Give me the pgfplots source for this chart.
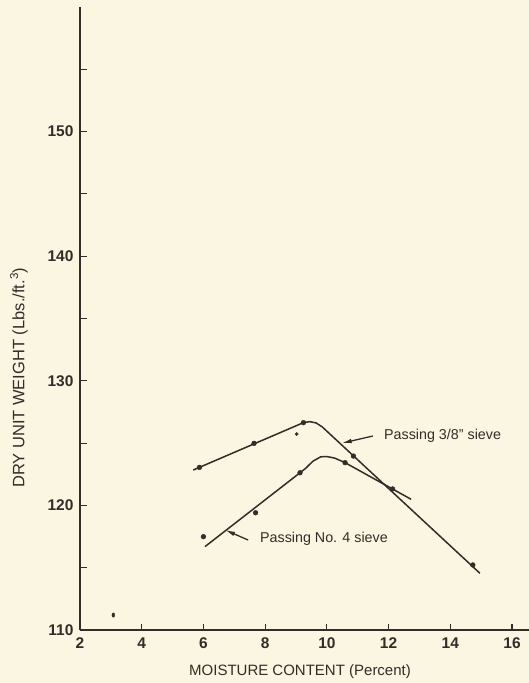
\documentclass[border=0pt]{standalone}
\usepackage{fontspec}
\setmainfont{Liberation Sans}
\usepackage{pgfplots}
\pgfplotsset{compat=1.18}
\usetikzlibrary{arrows.meta}
\definecolor{bg}{RGB}{250,246,226}
\definecolor{ink}{RGB}{52,44,40}

\begin{document}
\begin{tikzpicture}[x=1pt,y=1pt]
\fill[bg] (0,0) rectangle (529,683);
\path[use as bounding box] (0,0) rectangle (529,683);
\begin{axis}[
  at={(80pt,53pt)}, anchor=south west,
  scale only axis, width=449pt, height=623pt,
  xmin=2, xmax=16.55, ymin=110, ymax=160,
  axis lines=left,
  axis line style={ink, line width=1.3pt, -},
  xtick={2,4,6,8,10,12,14,16},
  xticklabels={2,4,6,8,10,12,14,16},
  ytick={110,115,120,125,130,135,140,145,150,155},
  yticklabels={110,,120,,130,,140,,150,},
  tick align=inside,
  major tick length=6.5pt,
  tick style={ink, line width=1.1pt},
  ticklabel style={font=\fontsize{15.5}{17}\selectfont\bfseries, text=ink},
  xticklabel style={yshift=-4pt},
  yticklabel style={xshift=-3pt},
  xlabel={MOISTURE CONTENT (Percent)},
  ylabel={DRY UNIT WEIGHT (Lbs./ft.\textsuperscript{3})},
  label style={text=ink},
  xlabel style={font=\fontsize{15}{17}\selectfont, at={(axis description cs:0.49,0)}, anchor=center, yshift=-42pt},
  ylabel style={font=\fontsize{16.5}{18}\selectfont, at={(axis description cs:-0.136,0.405)}, anchor=center},
  clip=false,
]
% fitted curves
\addplot[ink, line width=1.5pt] coordinates {
 (5.67,122.84) (9.05,126.44) (9.25,126.65) (9.45,126.72) (9.65,126.62) (9.85,126.30) (14.96,114.55)};
\addplot[ink, line width=1.5pt] coordinates {
 (6.05,116.69) (9.30,122.95) (9.55,123.55) (9.80,123.90) (10.00,123.92) (10.25,123.80) (10.59,123.43) (12.73,120.49)};
% measured points, 3/8" sieve
\addplot[only marks, mark=*, mark size=2.4pt, ink] coordinates {
 (5.87,123.05) (7.64,124.98) (9.24,126.64) (10.86,123.96) (12.13,121.32) (14.73,115.22)};
\addplot[only marks, mark=*, mark size=1.6pt, ink] coordinates {(9.02,125.73)};
% measured points, No. 4 sieve
\addplot[only marks, mark=*, mark size=2.4pt, ink] coordinates {
 (6.00,117.49) (7.69,119.41) (9.13,122.62) (10.59,123.43)};
% stray mark
\addplot[only marks, mark=*, mark size=1.4pt, ink, mark options={yscale=1.6}] coordinates {(3.08,111.2)};
% annotations
\draw[ink, line width=1.3pt, -{Latex[length=10pt,width=4.5pt]}] (axis cs:11.49,125.57) -- (axis cs:10.48,124.99);
\node[anchor=west, inner sep=0pt, text=ink, font=\fontsize{14.3}{16}\selectfont] at (axis cs:11.85,125.57) {Passing 3/8'' sieve};
\draw[ink, line width=1.3pt, -{Latex[length=10pt,width=4.5pt]}] (axis cs:7.45,117.22) -- (axis cs:6.70,118.03);
\node[anchor=west, inner sep=0pt, text=ink, font=\fontsize{14.3}{16}\selectfont] at (axis cs:7.83,117.28) {Passing No. 4 sieve};
\end{axis}
\end{tikzpicture}
\end{document}
